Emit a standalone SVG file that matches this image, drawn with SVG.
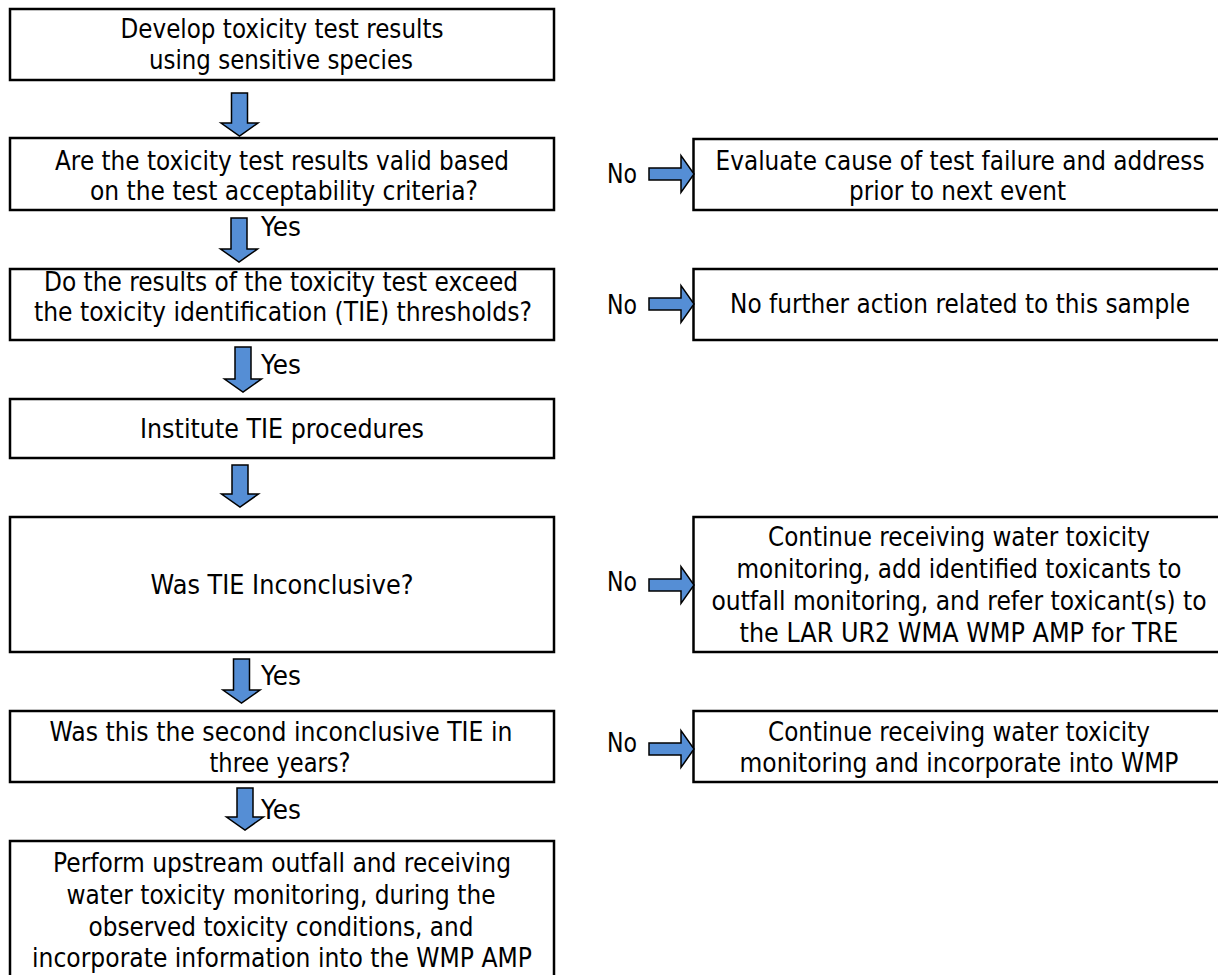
<svg xmlns="http://www.w3.org/2000/svg" width="1218" height="975" viewBox="0 0 1218 975">
<style>
.box{fill:#fff;stroke:#000;stroke-width:2.5}
.t{font-family:"DejaVu Sans","Liberation Sans",sans-serif;font-size:26px;fill:#000;text-anchor:middle}
.lbl{font-family:"DejaVu Sans","Liberation Sans",sans-serif;font-size:26px;fill:#000}
.arr{fill:#558ED5;stroke:#000;stroke-width:1.5;stroke-linejoin:miter}
</style>
<rect width="1218" height="975" fill="#fff"/>
<g id="n1"><rect class="box" x="10" y="9" width="544" height="71"/>
<text class="t" x="282" y="38" textLength="323" lengthAdjust="spacingAndGlyphs">Develop toxicity test results</text>
<text class="t" x="281" y="69" textLength="264" lengthAdjust="spacingAndGlyphs">using sensitive species</text></g>
<g id="n2"><rect class="box" x="10" y="138" width="544" height="72"/>
<text class="t" x="282" y="170" textLength="454" lengthAdjust="spacingAndGlyphs">Are the toxicity test results valid based</text>
<text class="t" x="284" y="200" textLength="388" lengthAdjust="spacingAndGlyphs">on the test acceptability criteria?</text></g>
<g id="n3"><rect class="box" x="10" y="269" width="544" height="71"/>
<text class="t" x="281" y="291" textLength="474" lengthAdjust="spacingAndGlyphs">Do the results of the toxicity test exceed</text>
<text class="t" x="283" y="321" textLength="498" lengthAdjust="spacingAndGlyphs">the toxicity identification (TIE) thresholds?</text></g>
<g id="n4"><rect class="box" x="10" y="399" width="544" height="59"/>
<text class="t" x="282" y="438" textLength="284" lengthAdjust="spacingAndGlyphs">Institute TIE procedures</text></g>
<g id="n5"><rect class="box" x="10" y="517" width="544" height="135"/>
<text class="t" x="282" y="594" textLength="263" lengthAdjust="spacingAndGlyphs">Was TIE Inconclusive?</text></g>
<g id="n6"><rect class="box" x="10" y="711" width="544" height="71"/>
<text class="t" x="281" y="741" textLength="463" lengthAdjust="spacingAndGlyphs">Was this the second inconclusive TIE in</text>
<text class="t" x="280" y="772" textLength="141" lengthAdjust="spacingAndGlyphs">three years?</text></g>
<g id="n7"><rect class="box" x="10" y="841" width="544" height="150"/>
<text class="t" x="282" y="872" textLength="458" lengthAdjust="spacingAndGlyphs">Perform upstream outfall and receiving</text>
<text class="t" x="281" y="904" textLength="429" lengthAdjust="spacingAndGlyphs">water toxicity monitoring, during the</text>
<text class="t" x="281" y="936" textLength="385" lengthAdjust="spacingAndGlyphs">observed toxicity conditions, and</text>
<text class="t" x="282" y="967" textLength="500" lengthAdjust="spacingAndGlyphs">incorporate information into the WMP AMP</text></g>
<g id="r1"><rect class="box" x="693.5" y="139" width="526.5" height="71"/>
<text class="t" x="960" y="170" textLength="489" lengthAdjust="spacingAndGlyphs">Evaluate cause of test failure and address</text>
<text class="t" x="957.5" y="200" textLength="217" lengthAdjust="spacingAndGlyphs">prior to next event</text></g>
<g id="r2"><rect class="box" x="693.5" y="269" width="526.5" height="71"/>
<text class="t" x="960" y="313" textLength="460" lengthAdjust="spacingAndGlyphs">No further action related to this sample</text></g>
<g id="r3"><rect class="box" x="693.5" y="517" width="526.5" height="135"/>
<text class="t" x="959" y="546" textLength="382" lengthAdjust="spacingAndGlyphs">Continue receiving water toxicity</text>
<text class="t" x="959" y="578" textLength="445" lengthAdjust="spacingAndGlyphs">monitoring, add identified toxicants to</text>
<text class="t" x="959" y="610" textLength="495" lengthAdjust="spacingAndGlyphs">outfall monitoring, and refer toxicant(s) to</text>
<text class="t" x="959" y="642" textLength="439" lengthAdjust="spacingAndGlyphs">the LAR UR2 WMA WMP AMP for TRE</text></g>
<g id="r4"><rect class="box" x="693.5" y="711" width="526.5" height="71"/>
<text class="t" x="959" y="741" textLength="382" lengthAdjust="spacingAndGlyphs">Continue receiving water toxicity</text>
<text class="t" x="959" y="772" textLength="439" lengthAdjust="spacingAndGlyphs">monitoring and incorporate into WMP</text></g>
<g id="connectors">
<path class="arr" d="M231.5 93 H247.5 V123 H258 L239.5 136 L221 123 H231.5 Z"/>
<path class="arr" d="M231 218 H247 V249 H257.5 L239 262 L220.5 249 H231 Z"/>
<text class="lbl" x="261" y="236" textLength="40" lengthAdjust="spacingAndGlyphs">Yes</text>
<path class="arr" d="M235 347 H251 V379 H261.5 L243 392 L224.5 379 H235 Z"/>
<text class="lbl" x="261" y="374" textLength="40" lengthAdjust="spacingAndGlyphs">Yes</text>
<path class="arr" d="M232 465 H248 V494 H258.5 L240 507 L221.5 494 H232 Z"/>
<path class="arr" d="M233.5 659 H249.5 V690 H260 L241.5 703 L223 690 H233.5 Z"/>
<text class="lbl" x="261" y="685" textLength="40" lengthAdjust="spacingAndGlyphs">Yes</text>
<path class="arr" d="M237 788 H253 V817 H263.5 L245 830 L226.5 817 H237 Z"/>
<text class="lbl" x="261" y="819" textLength="40" lengthAdjust="spacingAndGlyphs">Yes</text>
<path class="arr" d="M649 168 H681 V155.5 L694 174 L681 192.5 V180 H649 Z"/>
<text class="lbl" x="607" y="183" textLength="30" lengthAdjust="spacingAndGlyphs">No</text>
<path class="arr" d="M649 298 H681 V285.5 L694 304 L681 322.5 V310 H649 Z"/>
<text class="lbl" x="607" y="314" textLength="30" lengthAdjust="spacingAndGlyphs">No</text>
<path class="arr" d="M649 579 H681 V566.5 L694 585 L681 603.5 V591 H649 Z"/>
<text class="lbl" x="607" y="591" textLength="30" lengthAdjust="spacingAndGlyphs">No</text>
<path class="arr" d="M649 743 H681 V730.5 L694 749 L681 767.5 V755 H649 Z"/>
<text class="lbl" x="607" y="752" textLength="30" lengthAdjust="spacingAndGlyphs">No</text>
</g>
</svg>
